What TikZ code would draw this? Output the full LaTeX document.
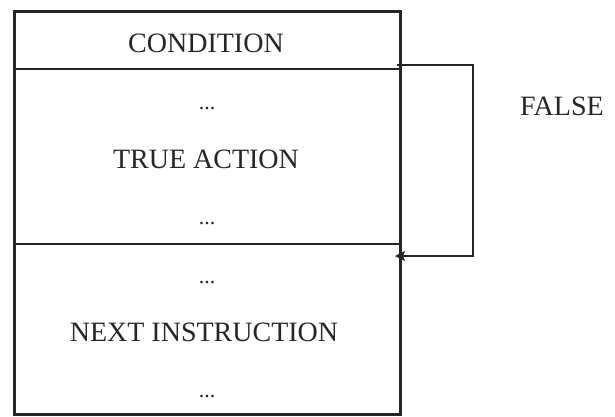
\documentclass[tikz,border=0pt]{standalone}
\usepackage{fontspec}
\setmainfont{Liberation Serif}
\usetikzlibrary{arrows.meta}
\begin{document}
\begin{tikzpicture}[x=1pt,y=-1pt,
  lbl/.style={anchor=base,inner sep=0pt,font=\fontsize{28}{30}\selectfont,text=black!85},
  dots/.style={anchor=base,inner sep=0pt,font=\fontsize{22}{24}\selectfont,text=black!85},
  outer/.style={draw=black!85,line width=2.8pt},
  divider/.style={draw=black!85,line width=1.3pt},
  flow/.style={draw=black!85,line width=1.3pt,-{Stealth[length=10pt,width=10pt,inset=2pt]}}]
\useasboundingbox (0,0) rectangle (615,416);
\fill[white] (0,0) rectangle (615,416);
% outer box
\node[outer,rectangle,minimum width=386pt,minimum height=403pt,anchor=north west,inner sep=0pt] (box) at (13,10) {};
% dividers
\coordinate (d1l) at (13,69); \coordinate (d1r) at (399,69);
\coordinate (d2l) at (13,244); \coordinate (d2r) at (399,244);
\draw[divider] (d1l) -- (d1r);
\draw[divider] (d2l) -- (d2r);
% texts
\node[lbl] (cond) at (206,52) {CONDITION};
\node[dots] (t1) at (207,109) {...};
\node[lbl] (true) at (206,168) {TRUE ACTION};
\node[dots] (t2) at (207,224) {...};
\node[dots] (n1) at (207,283) {...};
\node[lbl] (next) at (204,341) {NEXT INSTRUCTION};
\node[dots] (n2) at (207,397) {...};
\node[lbl,anchor=base west] (false) at (520,115) {FALSE};
% false branch
\coordinate (fs) at (397,65);
\coordinate (fe) at (395,256);
\draw[flow] (fs) -- (473,65) -- (473,256) -- (fe);
\end{tikzpicture}
\end{document}
